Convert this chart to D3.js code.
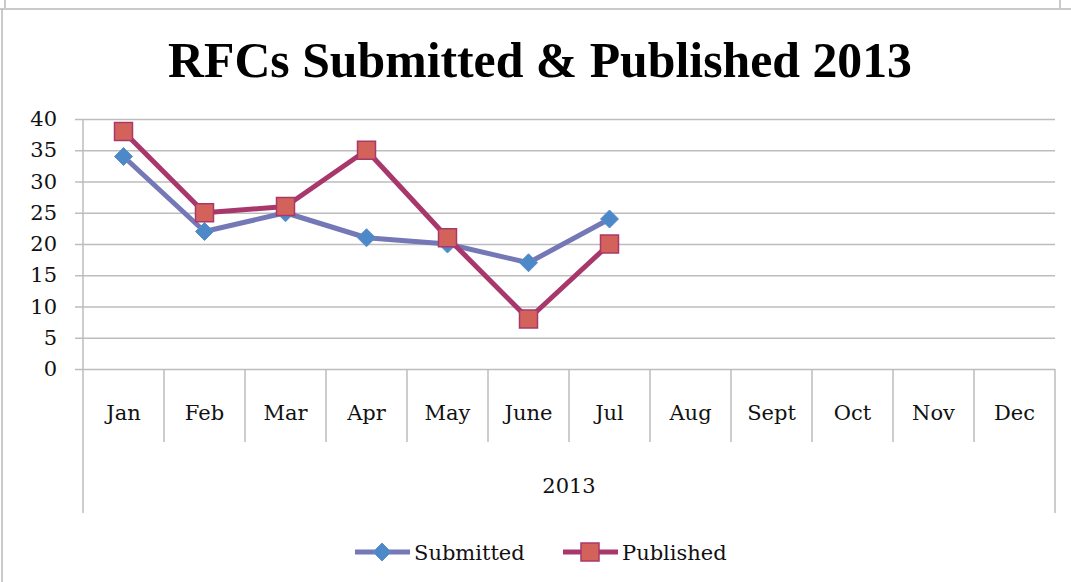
<!DOCTYPE html>
<html>
<head>
<meta charset="utf-8">
<script src="https://cdn.jsdelivr.net/npm/d3@7"></script>
<style>
  body { margin: 0; background: #fff; }
  svg { display: block; font-family: "DejaVu Serif", "Liberation Serif", serif; }
</style>
</head>
<body>
<script>
var months = ['Jan', 'Feb', 'Mar', 'Apr', 'May', 'June', 'Jul', 'Aug', 'Sept', 'Oct', 'Nov', 'Dec'];
var submitted = [34, 22, 25, 21, 20, 17, 24];
var published = [38, 25, 26, 35, 21, 8, 20];
var yTicks = [0, 5, 10, 15, 20, 25, 30, 35, 40];
var yearLabel = '2013';
var title = 'RFCs Submitted & Published 2013';

var W = 1071, H = 582;
var plotL = 83, plotR = 1055, plotT = 119, plotB = 369;
var labelSize = 21;

var svg = d3.select('body').append('svg')
    .attr('width', W)
    .attr('height', H);

// frame bits
var frame = '#b8b8b8';
svg.append('line').attr('x1', 0).attr('x2', W).attr('y1', 9).attr('y2', 9).attr('stroke', frame).attr('stroke-width', 1.5);
svg.append('line').attr('x1', 2).attr('x2', 2).attr('y1', 9).attr('y2', H).attr('stroke', frame).attr('stroke-width', 1.5);
svg.append('line').attr('x1', 5).attr('x2', 5).attr('y1', 0).attr('y2', 8).attr('stroke', frame).attr('stroke-width', 1.5);
svg.append('line').attr('x1', 1060).attr('x2', 1060).attr('y1', 0).attr('y2', 8).attr('stroke', frame).attr('stroke-width', 1.5);

var x = d3.scaleBand().domain(months).range([plotL, plotR]).padding(0);
var y = d3.scaleLinear().domain([0, 40]).range([plotB, plotT]);

// title, fitted to the reference width
var t = svg.append('text')
    .attr('x', 540)
    .attr('y', 77)
    .attr('text-anchor', 'middle')
    .attr('font-family', '"Liberation Serif", serif')
    .attr('font-weight', 'bold')
    .attr('font-size', 46)
    .attr('fill', '#000')
    .text(title);
var tl = t.node().getComputedTextLength();
t.attr('font-size', 46 * 744 / tl);

// y axis + grid
var yAxis = d3.axisLeft(y)
    .tickValues(yTicks)
    .tickSizeInner(-(plotR - plotL))
    .tickSizeOuter(0)
    .tickPadding(26);
var gy = svg.append('g')
    .attr('transform', 'translate(' + plotL + ',0)')
    .call(yAxis);
gy.select('.domain').remove();
gy.selectAll('.tick line')
    .attr('x1', -8)
    .attr('stroke', '#bdbdbd')
    .attr('stroke-width', 1.5);
gy.selectAll('.tick text')
    .attr('font-size', labelSize)
    .attr('fill', '#111')
    .attr('font-family', '"DejaVu Serif", serif');

// x axis
var xAxis = d3.axisBottom(x).tickSize(0).tickPadding(0);
var gx = svg.append('g')
    .attr('transform', 'translate(0,' + plotB + ')')
    .call(xAxis);
gx.select('.domain').remove();
gx.selectAll('.tick text')
    .attr('y', 51)
    .attr('dy', 0)
    .attr('font-size', labelSize)
    .attr('fill', '#111')
    .attr('font-family', '"DejaVu Serif", serif');

// category separators
var seps = months.map(function(m) { return x(m); }).concat([plotR]);
svg.selectAll('line.sep').data(seps).enter().append('line')
    .attr('class', 'sep')
    .attr('x1', function(d) { return d; })
    .attr('x2', function(d) { return d; })
    .attr('y1', plotB)
    .attr('y2', function(d, i) { return (i === 0 || i === seps.length - 1) ? 513 : 442; })
    .attr('stroke', '#bdbdbd')
    .attr('stroke-width', 1.5);

// left axis line
svg.append('line')
    .attr('x1', plotL).attr('x2', plotL)
    .attr('y1', plotT).attr('y2', plotB)
    .attr('stroke', '#bdbdbd').attr('stroke-width', 1.5);

svg.append('text')
    .attr('x', (plotL + plotR) / 2)
    .attr('y', 493)
    .attr('text-anchor', 'middle')
    .attr('font-size', labelSize)
    .attr('fill', '#111')
    .text(yearLabel);

var cx = function(d, i) { return x(months[i]) + x.bandwidth() / 2; };

var line = d3.line()
    .x(function(d, i) { return cx(d, i); })
    .y(function(d) { return y(d); });

var subLine = '#7478b6', subFill = '#4d88c8';
var pubLine = '#a8386c', pubFill = '#d3625a';

svg.append('path').datum(submitted)
    .attr('d', line)
    .attr('fill', 'none')
    .attr('stroke', subLine)
    .attr('stroke-width', 5)
    .attr('stroke-linejoin', 'round');

svg.append('path').datum(published)
    .attr('d', line)
    .attr('fill', 'none')
    .attr('stroke', pubLine)
    .attr('stroke-width', 5)
    .attr('stroke-linejoin', 'round');

var diamond = function(cxp, cyp, r) {
  return 'M' + cxp + ',' + (cyp - r) + 'L' + (cxp + r) + ',' + cyp + 'L' + cxp + ',' + (cyp + r) + 'L' + (cxp - r) + ',' + cyp + 'Z';
};

svg.selectAll('path.sub').data(submitted).enter().append('path')
    .attr('class', 'sub')
    .attr('d', function(d, i) { return diamond(cx(d, i), y(d), 9); })
    .attr('fill', subFill)
    .attr('stroke', '#5a8fc6')
    .attr('stroke-width', 1);

svg.selectAll('rect.pub').data(published).enter().append('rect')
    .attr('class', 'pub')
    .attr('x', function(d, i) { return cx(d, i) - 9; })
    .attr('y', function(d) { return y(d) - 9; })
    .attr('width', 18)
    .attr('height', 18)
    .attr('fill', pubFill)
    .attr('stroke', pubLine)
    .attr('stroke-width', 1.5);

// legend
var lg = svg.append('g');
lg.append('line').attr('x1', 355).attr('x2', 410).attr('y1', 552).attr('y2', 552)
    .attr('stroke', subLine).attr('stroke-width', 5);
lg.append('path').attr('d', diamond(382, 552, 9)).attr('fill', subFill).attr('stroke', '#5a8fc6');
lg.append('text').attr('x', 414).attr('y', 560).attr('font-size', labelSize).attr('fill', '#111').text('Submitted');

lg.append('line').attr('x1', 563).attr('x2', 618).attr('y1', 552).attr('y2', 552)
    .attr('stroke', pubLine).attr('stroke-width', 5);
lg.append('rect').attr('x', 581).attr('y', 543).attr('width', 18).attr('height', 18)
    .attr('fill', pubFill).attr('stroke', pubLine).attr('stroke-width', 1.5);
lg.append('text').attr('x', 622).attr('y', 560).attr('font-size', labelSize).attr('fill', '#111').text('Published');
</script>
</body>
</html>
